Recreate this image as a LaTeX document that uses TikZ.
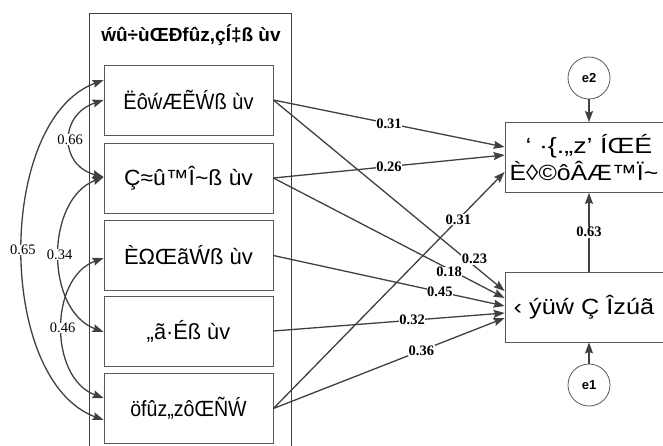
\documentclass[tikz,border=0pt]{standalone}
\usepackage{fontspec}
\usepackage{graphicx}
\setmainfont{Liberation Serif}
\newfontfamily\boxfont{Liberation Sans}
\usetikzlibrary{arrows.meta}
\definecolor{ln}{HTML}{404040}
\definecolor{bx}{HTML}{595959}
\newcommand{\hsc}[2]{\scalebox{#1}[1]{#2}}
\begin{document}
\begin{tikzpicture}[x=1pt,y=-1pt,
  lbox/.style={draw=bx, line width=0.8pt, minimum width=169pt, minimum height=70pt, inner sep=0pt,
    font=\boxfont\fontsize{22}{24}\selectfont},
  rbox/.style={draw=bx, line width=0.8pt, minimum width=168pt, minimum height=70pt, inner sep=0pt, align=center,
    font=\boxfont\fontsize{22}{27}\selectfont},
  con/.style={draw=ln, line width=1.3pt, -{Stealth[length=11pt,width=8pt,inset=1.5pt]}},
  cova/.style={draw=ln, line width=1.3pt, {Stealth[length=11pt,width=8pt,inset=1.5pt]}-{Stealth[length=11pt,width=8pt,inset=1.5pt]}},
  coef/.style={font=\bfseries\fontsize{14.5}{14.5}\selectfont, fill=white, inner sep=0.5pt},
  cov/.style={font=\fontsize{14.5}{14.5}\selectfont, fill=white, inner sep=0.5pt},
  ecirc/.style={draw=bx, line width=0.8pt, circle, minimum size=42pt, inner sep=0pt, font=\boxfont\bfseries\fontsize{13}{13}\selectfont},
  ttl/.style={font=\boxfont\bfseries\fontsize{19}{19}\selectfont}
]
\useasboundingbox (0,0) rectangle (663,445);
\draw[draw=ln, line width=0.9pt] (89,13) rectangle (291,470);
\node[ttl] (title) at (191,35) {\hsc{1.0}{ẃû÷ùŒÐfûz,çÍ‡ß ùv}};

\node[lbox] (b1) at (188.5,100) {\hsc{0.91}{ËôẃÆẼẂß ùv}};
\node[lbox] (b2) at (188.5,178) {\hsc{1.04}{Ç≈û™Î\~{}ß ùv}};
\node[lbox] (b3) at (188.5,255.5) {\hsc{1.0}{ÈΩŒãẂß ùv}};
\node[lbox] (b4) at (188.5,331) {\hsc{0.99}{„ã·Éß ùv}};
\node[lbox] (b5) at (188.5,408.5) {\hsc{0.89}{öfûz„zôŒÑẂ}};

\node[rbox] (t) at (589,157.5) {\hsc{1.22}{‘ ·\{.„z’ ÍŒÉ}\\\hsc{1.13}{È◊©ôÂÆ™Ï\~{}}\hspace*{10pt}};
\node[rbox] (b) at (589,307) {\hsc{1.15}{‹ ýüẃ Ç Îzúã}\hspace*{10pt}};

\node[ecirc] (e2) at (589,78) {e2};
\node[ecirc] (e1) at (589,385) {e1};

\draw[con] (b1.east) -- node[coef,pos=0.5]{0.31} ([yshift=10.5pt]t.west);
\draw[con] (b2.east) -- node[coef,pos=0.5]{0.26} ([yshift=2.5pt]t.west);
\draw[con] (b5.east) -- node[coef,pos=0.8]{0.31} ([yshift=-14.5pt]t.west);

\draw[con] (b1.east) -- node[coef,pos=0.87,yshift=7pt]{0.23} ([yshift=16pt]b.west);
\draw[con] (b2.east) -- node[coef,pos=0.76,yshift=-3pt]{0.18} ([yshift=9pt]b.west);
\draw[con] (b3.east) -- node[coef,pos=0.72]{0.45} ([yshift=1pt]b.west);
\draw[con] (b4.east) -- node[coef,pos=0.6]{0.32} ([yshift=-6pt]b.west);
\draw[con] (b5.east) -- node[coef,pos=0.64]{0.36} ([yshift=-11pt]b.west);

\draw[con] (b.north) -- node[coef]{0.63} (t.south);
\draw[con] (e2.south) -- (t.north);
\draw[con] (e1.north) -- (b.south);

\draw[cova] (b1.west) .. controls (59,115) and (59,165) .. node[cov,pos=0.5]{0.66} ([yshift=1pt]b2.west);
\draw[cova] ([yshift=1pt]b2.west) .. controls (45,200) and (45,310) .. node[cov,pos=0.5]{0.34} ([yshift=-1pt]b4.west);
\draw[cova] ([yshift=-2.5pt]b3.west) .. controls (49,278) and (49,378) .. node[cov,pos=0.5]{0.46} ([yshift=10.5pt]b5.west);
\draw[cova] ([yshift=20pt]b1.west) .. controls (-4,120) and (-4,380) .. node[cov,pos=0.5]{0.65} ([yshift=-11.5pt]b5.west);
\end{tikzpicture}
\end{document}
